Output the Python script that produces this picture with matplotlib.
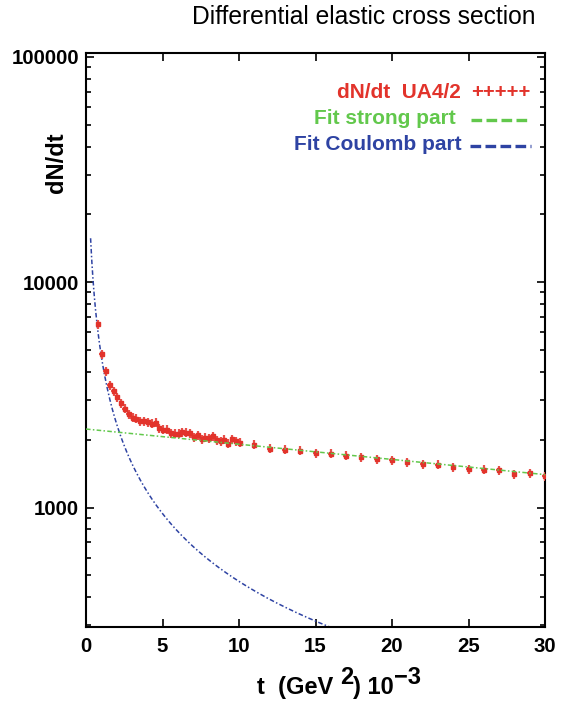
# differential elastic cross section, UA4/2 data with fits
import numpy as np
import matplotlib
matplotlib.use('Agg')
import matplotlib.pyplot as plt
from matplotlib.lines import Line2D
from matplotlib.ticker import LogLocator, NullFormatter, FixedLocator

plt.rcParams['font.family'] = ['Liberation Sans', 'DejaVu Sans']

# measured points (t in 10^-3 GeV^2)
t_data = [0.8, 1.05, 1.3, 1.55, 1.8, 2.05, 2.3, 2.55, 2.8, 3.05,
          3.3, 3.55, 3.8, 4.05, 4.3, 4.55, 4.8, 5.05, 5.3, 5.55,
          5.8, 6.05, 6.3, 6.55, 6.8, 7.05, 7.3, 7.55, 7.8, 8.05,
          8.3, 8.55, 8.8, 9.05, 9.3, 9.55, 9.8, 10.05,
          11, 12, 13, 14, 15, 16, 17, 18, 19, 20,
          21, 22, 23, 24, 25, 26, 27, 28, 29, 30]
dndt = [6490, 4786, 4019, 3496, 3289, 3083, 2908, 2746, 2590, 2504,
        2479, 2419, 2420, 2390, 2355, 2379, 2251, 2214, 2214, 2138,
        2126, 2126, 2161, 2148, 2138, 2053, 2096, 2012, 2041, 2026,
        2068, 1986, 1972, 2000, 1919, 2012, 1972, 1939,
        1900, 1824, 1805, 1788, 1745, 1734, 1698, 1674, 1635, 1618,
        1586, 1558, 1548, 1511, 1476, 1471, 1460, 1406, 1416, 1374]
rel_err = 0.045   # vertical error bar, relative
t_err = 0.17      # horizontal error bar

# fit parameters
strong_A = 2230.0   # dN/dt at t=0
strong_b = 0.01552  # slope
coul_C = 4700.0     # Coulomb part ~ C/t
coul_tmin, coul_tmax = 0.3, 16.5

red = '#e2332b'
green = '#62c84c'
blue = '#2e43a3'

W, H = 567, 703
fig = plt.figure(figsize=(W/100, H/100), dpi=100)
ax = fig.add_axes([86/W, 1-627/H, 459/W, 574/H])

t_data = np.array(t_data)
dndt = np.array(dndt)
ax.errorbar(t_data, dndt, yerr=rel_err*dndt, xerr=t_err, fmt='s', ms=3.2,
            color=red, ecolor='#e8504a', elinewidth=1.6, capsize=0, zorder=3)

ts = np.linspace(0, 30, 300)
ax.plot(ts, strong_A*np.exp(-strong_b*ts), color=green, lw=1.1,
        dashes=(3, 1.5, 1, 1.5), zorder=4)
tc = np.linspace(coul_tmin, coul_tmax, 400)
ax.plot(tc, coul_C/tc, color=blue, lw=1.1, dashes=(3, 1.5, 1, 1.5), zorder=2)

ax.set_yscale('log')
ax.set_xlim(0, 30)
ax.set_ylim(295, 104000)
ax.xaxis.set_major_locator(FixedLocator([0, 5, 10, 15, 20, 25, 30]))
ax.set_xticklabels(['0', '5', '10', '15', '20', '25', '30'])
ax.yaxis.set_major_locator(FixedLocator([1000, 10000, 100000]))
ax.set_yticklabels(['1000', '10000', '100000'])
ax.yaxis.set_minor_locator(LogLocator(base=10, subs=np.arange(2, 10)))
ax.yaxis.set_minor_formatter(NullFormatter())
ax.tick_params(which='both', direction='in', top=True, right=True, width=1.2)
ax.tick_params(which='major', length=6)
ax.tick_params(which='minor', length=3.5)
ax.tick_params(axis='x', pad=7, labelsize=14.7)
ax.tick_params(axis='y', pad=5, labelsize=14.7)
for lab in ax.get_xticklabels() + ax.get_yticklabels():
    lab.set_fontweight('bold')
for s in ax.spines.values():
    s.set_linewidth(1.5)

# x label in pieces: superscripts stay full size as in the original
fs = 17
kw = dict(fontsize=fs, fontweight='bold', ha='left', va='bottom',
          annotation_clip=False)
p1 = fig.text(257/W, 1-699/H, 't  (GeV ', fontsize=fs, fontweight='bold',
              ha='left', va='bottom')
p2 = ax.annotate('2', xy=(1, 0.42), xycoords=p1, **kw)
p3 = ax.annotate(') 10', xy=(1, 0), xycoords=(p2, p1), **kw)
p4 = ax.annotate('\u22123', xy=(1, 0.42), xycoords=p3, **kw)

fig.text(57/W, 1-163/H, 'dN/dt', fontsize=17, fontweight='bold',
         rotation=90, ha='center', va='center')
fig.text(535/W, 1-17/H, 'Differential elastic cross section', fontsize=17.7,
         ha='right', va='center')

# key
rows = [('dN/dt  UA4/2', red, 461, 92),
        ('Fit strong part', green, 456, 119),
        ('Fit Coulomb part', blue, 462, 145)]
for name, c, xr, yc in rows:
    fig.text(xr/W, 1-yc/H, name, color=c, fontsize=15, fontweight='bold',
             ha='right', va='center')
fig.text(501/W, 1-92/H, '+++++', color=red, fontsize=14.5, fontweight='bold',
         ha='center', va='center')
for c, x0, x1, yc in [(green, 471, 529, 119), (blue, 470, 531, 145)]:
    fig.add_artist(Line2D([x0/W, x1/W], [1-(yc+1)/H, 1-(yc+1)/H], color=c,
                          lw=2.4, dashes=(3.2, 1.3), transform=fig.transFigure))

plt.savefig('out.png', dpi=100)
plt.close()
